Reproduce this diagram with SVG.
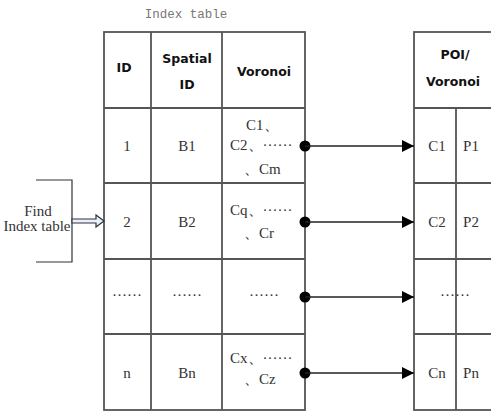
<svg xmlns="http://www.w3.org/2000/svg" width="491" height="412" viewBox="0 0 491 412">
<defs>
<style>
.grid{stroke:#555;stroke-width:1.8;fill:none}
.hd{font-family:"DejaVu Sans",sans-serif;font-weight:bold;font-size:12.5px;fill:#111;text-anchor:middle}
.tx{font-family:"Liberation Serif",serif;font-size:15px;fill:#333;text-anchor:middle}
.txl{font-family:"Liberation Serif",serif;font-size:15px;fill:#333}
.ttl{font-family:"Liberation Mono",monospace;font-size:12.5px;fill:#777;text-anchor:middle}
.conn{stroke:#222;stroke-width:1.3;fill:none}
</style>
<marker id="ah" markerWidth="12" markerHeight="12" refX="12" refY="6" orient="auto" markerUnits="userSpaceOnUse">
<path d="M0,0 L12,6 L0,12 Z" fill="#000"/>
</marker>
</defs>
<rect width="491" height="412" fill="#fff"/>
<text class="ttl" x="186" y="18">Index table</text>
<g id="find">
<path d="M36,180 H72 V262 H36" fill="none" stroke="#333" stroke-width="1.2"/>
<text class="tx" x="38" y="216" font-size="12">Find</text>
<text class="tx" x="37" y="231" font-size="12">Index table</text>
</g>
<g id="index-table">
<rect class="grid" x="104" y="32" width="201" height="378"/>
<line class="grid" x1="151" y1="32" x2="151" y2="410"/>
<line class="grid" x1="222" y1="32" x2="222" y2="410"/>
<line class="grid" x1="104" y1="108" x2="305" y2="108"/>
<line class="grid" x1="104" y1="183" x2="305" y2="183"/>
<line class="grid" x1="104" y1="259" x2="305" y2="259"/>
<line class="grid" x1="104" y1="334" x2="305" y2="334"/>
<text class="hd" x="124" y="72">ID</text>
<text class="hd" x="187" y="63">Spatial</text>
<text class="hd" x="187" y="89">ID</text>
<text class="hd" x="264" y="76">Voronoi</text>
<text class="tx" x="127" y="151">1</text>
<text class="tx" x="187" y="151">B1</text>
<text class="txl" x="246" y="130">C1、</text>
<text class="txl" x="230" y="150">C2、······</text>
<text class="txl" x="244" y="174">、Cm</text>
<text class="tx" x="127" y="227">2</text>
<text class="tx" x="187" y="227">B2</text>
<text class="txl" x="230" y="215">Cq、······</text>
<text class="txl" x="244" y="238">、Cr</text>
<text class="tx" x="127" y="300">······</text>
<text class="tx" x="187" y="300">······</text>
<text class="tx" x="264" y="300">······</text>
<text class="tx" x="127" y="378">n</text>
<text class="tx" x="187" y="378">Bn</text>
<text class="txl" x="230" y="363">Cx、······</text>
<text class="txl" x="244" y="384">、Cz</text>
</g>
<g id="poi-table">
<rect class="grid" x="414" y="32" width="84" height="378"/>
<line class="grid" x1="456" y1="108" x2="456" y2="410"/>
<line class="grid" x1="414" y1="108" x2="498" y2="108"/>
<line class="grid" x1="414" y1="183" x2="498" y2="183"/>
<line class="grid" x1="414" y1="259" x2="498" y2="259"/>
<line class="grid" x1="414" y1="334" x2="498" y2="334"/>
<text class="hd" x="455" y="59">POI/</text>
<text class="hd" x="453" y="86">Voronoi</text>
<text class="tx" x="437" y="151">C1</text>
<text class="tx" x="471" y="151">P1</text>
<text class="tx" x="437" y="227">C2</text>
<text class="tx" x="471" y="227">P2</text>
<text class="tx" x="455" y="300">······</text>
<text class="tx" x="437" y="378">Cn</text>
<text class="tx" x="471" y="378">Pn</text>
</g>
<g id="connectors">
<path d="M72,219 H96 V215 L104,221 L96,227 V223 H72 Z" fill="#e8f0ff" stroke="#333" stroke-width="1.2"/>
<circle cx="305" cy="146" r="5.5" fill="#000"/>
<circle cx="305" cy="222" r="5.5" fill="#000"/>
<circle cx="305" cy="297" r="5.5" fill="#000"/>
<circle cx="305" cy="373" r="5.5" fill="#000"/>
<line class="conn" x1="305" y1="146" x2="414" y2="146" marker-end="url(#ah)"/>
<line class="conn" x1="305" y1="222" x2="414" y2="222" marker-end="url(#ah)"/>
<line class="conn" x1="305" y1="297" x2="414" y2="297" marker-end="url(#ah)"/>
<line class="conn" x1="305" y1="373" x2="414" y2="373" marker-end="url(#ah)"/>
</g>
</svg>
